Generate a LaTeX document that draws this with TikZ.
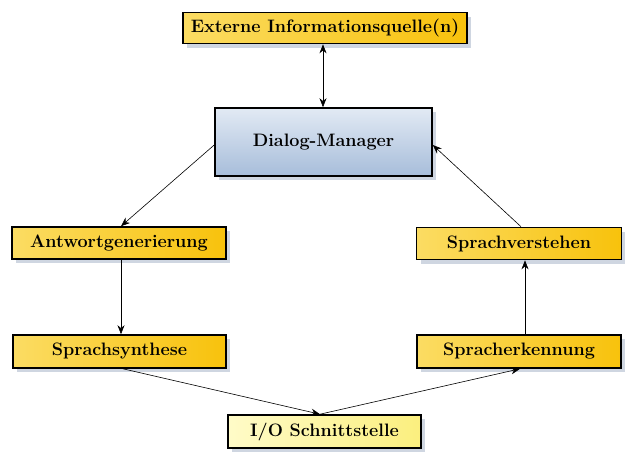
\documentclass[tikz,border=0pt]{standalone}
\usetikzlibrary{shadows,arrows.meta}
\definecolor{goldR}{HTML}{F8C20C}
\definecolor{goldL}{HTML}{FBDC63}
\definecolor{paleR}{HTML}{FBEF7E}
\definecolor{paleL}{HTML}{FFFBC8}
\definecolor{blueA}{HTML}{E2EAF4}
\definecolor{blueB}{HTML}{A7BDDA}
\definecolor{shade}{HTML}{C3CCDA}
\tikzset{
  box/.style={draw=black, line width=1.6pt, inner sep=0pt, anchor=center,
    font=\fontsize{18}{20}\selectfont\bfseries,
    drop shadow={shadow xshift=4pt, shadow yshift=-4pt, fill=shade, opacity=0.8}},
  goldbox/.style={box, left color=goldL, right color=goldR},
  palebox/.style={box, left color=paleL, right color=paleR},
  conn/.style={-{Stealth[length=9pt,width=7pt]}, line width=0.6pt}
}
\begin{document}
\begin{tikzpicture}[x=1pt,y=-1pt]
\useasboundingbox (0,0) rectangle (625,451);
\node[goldbox, minimum width=284pt, minimum height=31pt] (ext) at (325,28) {Externe Informationsquelle(n)};
\node[box, shading angle=135, top color=blueA, bottom color=blueB, minimum width=217pt, minimum height=68pt] (dm) at (323.5,142) {Dialog-Manager};
\node[goldbox, minimum width=214pt, minimum height=32pt] (ag) at (119,243) {Antwortgenerierung};
\node[goldbox, minimum width=205pt, minimum height=32pt] (sv) at (519,243.5) {Sprachverstehen};
\node[goldbox, minimum width=213pt, minimum height=33pt] (ss) at (119.5,351.5) {Sprachsynthese};
\node[goldbox, minimum width=204pt, minimum height=33pt] (se) at (519,351.5) {Spracherkennung};
\node[palebox, minimum width=193pt, minimum height=33pt] (io) at (324.5,431.5) {I/O Schnittstelle};

\draw[conn, {Stealth[length=9pt,width=7pt]}-{Stealth[length=9pt,width=7pt]}] (ext.south -| 323,0) -- (dm.north -| 323,0);
\draw[conn] (dm.west |- 0,145) -- (ag.north -| 121,0);
\draw[conn] (ag.south -| 121,0) -- (ss.north -| 121,0);
\draw[conn] (ss.south -| 123,0) -- (io.north -| 320,0);
\draw[conn] (io.north -| 320,0) -- (se.south -| 520,0);
\draw[conn] (se.north -| 525,0) -- (sv.south -| 525,0);
\draw[conn] (sv.north -| 521,0) -- (dm.east |- 0,145);
\end{tikzpicture}
\end{document}
